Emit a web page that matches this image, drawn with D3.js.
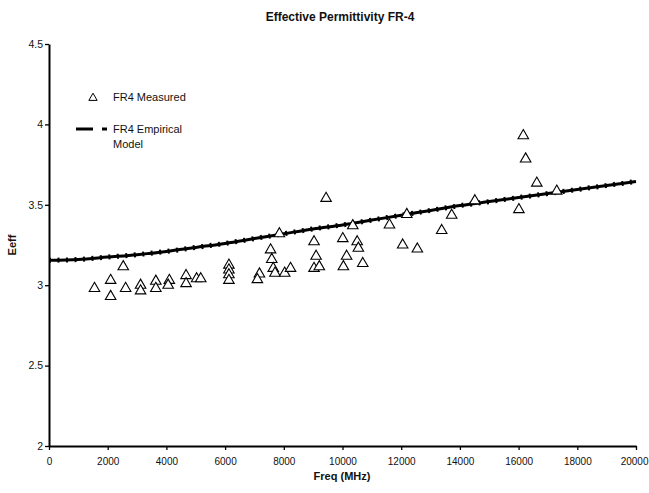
<!DOCTYPE html>
<html>
<head>
<meta charset="utf-8">
<script src="https://cdn.jsdelivr.net/npm/d3@7"></script>
<style>
  body { margin: 0; background: #fff; }
  text { font-family: "Liberation Sans", Arial, sans-serif; fill: #111; }
</style>
</head>
<body>
<div id="chart"></div>
<script>
// measured points (MHz, Eeff)
const measFreq = [1550, 2100, 2100, 2530, 2610, 3120, 3120, 3640, 3640, 4100, 4060,
  4670, 4670, 5030, 5170, 6130, 6130, 6130, 6130, 7170, 7100, 7550, 7590, 7640, 7700,
  7850, 8030, 8230, 9030, 9100, 9030, 9210, 9440, 10010, 10140, 10030, 10350, 10500,
  10540, 10690, 11600, 12190, 12050, 12550, 13380, 13720, 14510, 16010, 16160, 16240,
  16620, 17300]
const measEeff = [2.98, 3.03, 2.93, 3.115, 2.98, 3.00, 2.965, 3.025, 2.98, 3.03, 3.00,
  3.06, 3.01, 3.04, 3.04, 3.125, 3.095, 3.065, 3.03, 3.07, 3.035, 3.22, 3.16, 3.105, 3.075,
  3.32, 3.075, 3.105, 3.27, 3.18, 3.105, 3.115, 3.54, 3.29, 3.18, 3.115, 3.37, 3.27,
  3.23, 3.135, 3.375, 3.44, 3.25, 3.225, 3.34, 3.435, 3.525, 3.47, 3.93, 3.785,
  3.635, 3.585]

// empirical model
const modelFreq = [0, 1000, 2000, 3000, 4000, 5000, 6000, 7000, 8000, 9000, 10000,
  11000, 12000, 13000, 14000, 15000, 16000, 17000, 18000, 19000, 20000]
const modelEeff = [3.155, 3.16, 3.175, 3.19, 3.21, 3.235, 3.26, 3.29, 3.32, 3.35, 3.375,
  3.405, 3.435, 3.465, 3.495, 3.52, 3.545, 3.57, 3.595, 3.62, 3.645]

const xTicks = [0, 2000, 4000, 6000, 8000, 10000, 12000, 14000, 16000, 18000, 20000]
const yTicks = [2, 2.5, 3, 3.5, 4, 4.5]

const width = 649, height = 493
const margin = { top: 44, right: 13, bottom: 47, left: 49 }

const svg = d3.select('#chart').append('svg')
  .attr('width', width)
  .attr('height', height)

const x = d3.scaleLinear().domain([0, 20000]).range([margin.left, width - margin.right])
const y = d3.scaleLinear().domain([2, 4.5]).range([height - margin.bottom, margin.top])

// title
svg.append('text')
  .attr('x', 340).attr('y', 21)
  .attr('text-anchor', 'middle')
  .style('font-size', '12px').style('font-weight', 'bold')
  .text('Effective Permittivity FR-4')

// x axis
const xAxis = svg.append('g')
  .attr('transform', `translate(0, ${y(2)})`)
  .call(d3.axisBottom(x).tickValues(xTicks).tickSize(4).tickSizeOuter(0).tickFormat(d3.format('d')))
xAxis.select('.domain').attr('stroke', '#000').attr('stroke-width', 2)
xAxis.selectAll('.tick line').attr('stroke', '#000').attr('stroke-width', 1.3)
xAxis.selectAll('text').style('font-size', '10px').attr('dy', '1.15em')
// last label sits against the right edge, like the original
xAxis.selectAll('.tick').filter(d => d === 20000).select('text')
  .attr('text-anchor', 'end').attr('x', 12)

// y axis
const yAxis = svg.append('g')
  .attr('transform', `translate(${x(0)}, 0)`)
  .call(d3.axisLeft(y).tickValues(yTicks).tickSize(4).tickSizeOuter(0).tickFormat(d => d))
yAxis.select('.domain').attr('stroke', '#000').attr('stroke-width', 2)
yAxis.selectAll('.tick line').attr('stroke', '#000').attr('stroke-width', 1.3)
yAxis.selectAll('text').style('font-size', '10.5px').attr('x', -6)

// axis titles
svg.append('text')
  .attr('x', 342).attr('y', 480)
  .attr('text-anchor', 'middle')
  .style('font-size', '11px').style('font-weight', 'bold')
  .text('Freq (MHz)')

svg.append('text')
  .attr('transform', 'translate(16, 245) rotate(-90)')
  .attr('text-anchor', 'middle')
  .style('font-size', '11px').style('font-weight', 'bold')
  .text('Eeff')

// model curve
const modelData = modelFreq.map((f, i) => ({ f, e: modelEeff[i] }))
const line = d3.line()
  .x(d => x(d.f))
  .y(d => y(d.e))
  .curve(d3.curveMonotoneX)

svg.append('path')
  .datum(modelData)
  .attr('d', line)
  .attr('fill', 'none')
  .attr('stroke', '#000')
  .attr('stroke-width', 3)

// little marker bumps along the curve
svg.append('path')
  .datum(modelData)
  .attr('d', line)
  .attr('fill', 'none')
  .attr('stroke', '#000')
  .attr('stroke-width', 5)
  .attr('stroke-dasharray', '2 6.5')

// measured triangles
const tri = d3.symbol().type(d3.symbolTriangle).size(48)
svg.append('g')
  .selectAll('path')
  .data(measFreq.map((f, i) => ({ f, e: measEeff[i] })))
  .join('path')
  .attr('transform', d => `translate(${x(d.f)}, ${y(d.e)})`)
  .attr('d', tri)
  .attr('fill', '#fff')
  .attr('stroke', '#000')
  .attr('stroke-width', 1.1)

// legend
const legend = svg.append('g')
legend.append('path')
  .attr('transform', 'translate(93, 98)')
  .attr('d', d3.symbol().type(d3.symbolTriangle).size(30))
  .attr('fill', '#fff')
  .attr('stroke', '#000')
  .attr('stroke-width', 1)
legend.append('text')
  .attr('x', 113).attr('y', 101)
  .style('font-size', '11px')
  .text('FR4 Measured')

legend.append('line')
  .attr('x1', 76).attr('x2', 93).attr('y1', 129).attr('y2', 129)
  .attr('stroke', '#000').attr('stroke-width', 3)
legend.append('line')
  .attr('x1', 102).attr('x2', 107).attr('y1', 129).attr('y2', 129)
  .attr('stroke', '#000').attr('stroke-width', 3)
legend.append('text')
  .attr('x', 113).attr('y', 133)
  .style('font-size', '11px')
  .text('FR4 Empirical')
legend.append('text')
  .attr('x', 113).attr('y', 148)
  .style('font-size', '11px')
  .text('Model')
</script>
</body>
</html>
